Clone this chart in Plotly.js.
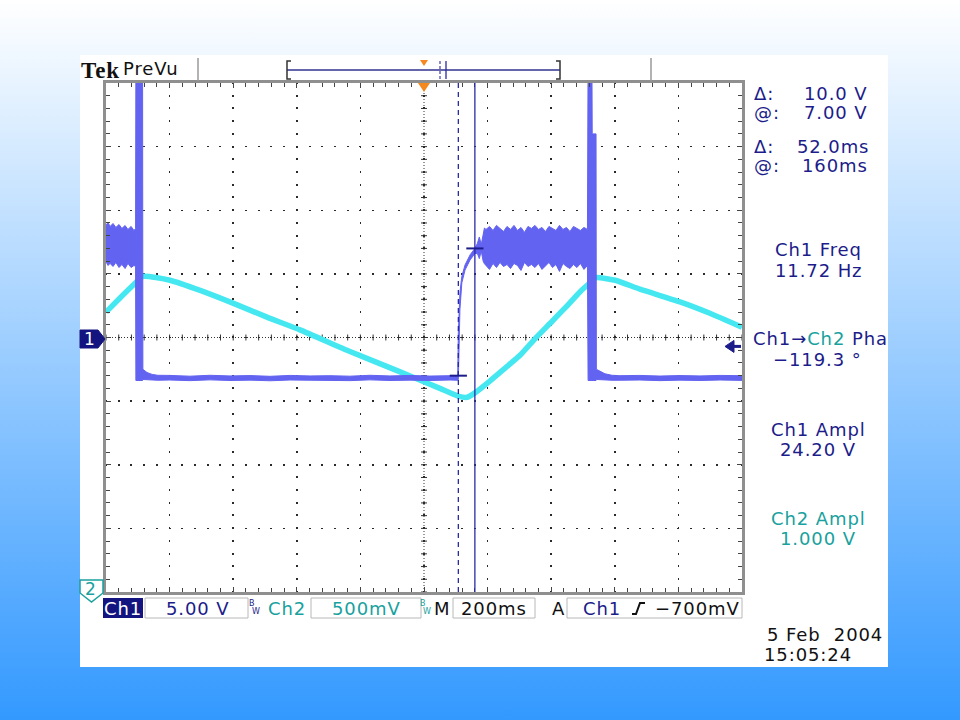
<!DOCTYPE html>
<html><head><meta charset="utf-8">
<script src="https://cdn.plot.ly/plotly-3.0.1.min.js"></script>
<style>
html,body{margin:0;padding:0;width:960px;height:720px;overflow:hidden;background:linear-gradient(to bottom,#ffffff 0%,#3399ff 100%);}
#chart{width:960px;height:720px;}
text.annotation-text{letter-spacing:0.9px;}
</style>
</head><body><div id="chart"></div>
<script>
// ---------- data (time in ms relative to trigger, volts) ----------
const ch1Time = [
-1000,-994,-987,-978,-969,-959,-950,-940,-931,-921,-912,-907,
-906,-885,
-884,-871,-855,-837,
-799,-736,-673,-610,-547,-484,-421,-358,-296,-233,-170,-107,-44,19,82,
106,
108,110,113,119,129,145,160,168,174,180,186,190,
195,206,217,228,239,250,261,272,283,294,305,316,327,338,349,360,371,382,393,404,415,426,437,448,459,470,481,492,503,514,
516,528,529,541,
542,553,569,591,616,679,742,805,868,931,1000];
const ch1High = [
8.80,9.04,8.73,8.96,8.65,8.88,8.57,8.80,8.49,8.73,8.41,8.57,
22,22,
-2.5,-2.75,-2.9,-2.97,
-2.98,-3.04,-2.97,-3.02,-2.99,-3.05,-2.98,-3.02,-3.0,-3.04,-2.97,-3.02,-2.98,-3.03,-3.0,
-3.0,
0.4,2.2,3.54,4.8,5.7,6.5,7.0,7.4,7.9,7.3,8.2,8.6,
8.49,8.73,8.41,8.81,8.57,8.33,8.73,8.49,8.81,8.41,8.65,8.26,8.73,8.57,8.81,8.49,8.65,8.33,8.73,8.57,8.41,8.81,8.49,8.65,8.33,8.73,8.57,8.41,8.65,8.49,
22,22,16,16,
-2.5,-2.65,-2.85,-2.97,-3.0,-2.98,-3.03,-2.99,-3.02,-2.98,-3.0];
const ch1Low = [
5.97,5.66,5.82,5.58,5.90,5.50,5.74,5.42,5.82,5.50,5.66,5.58,
-3.38,-3.38,
-3.3,-3.33,-3.35,-3.36,
-3.34,-3.39,-3.33,-3.38,-3.35,-3.4,-3.34,-3.37,-3.36,-3.39,-3.33,-3.38,-3.35,-3.38,-3.34,
-3.36,
-3.3,0.4,2.2,4.3,5.3,6.1,6.6,6.6,6.2,6.8,6.0,5.8,
5.66,5.35,5.82,5.50,5.90,5.58,5.74,5.42,5.82,5.66,5.27,5.90,5.58,5.74,5.50,5.82,5.35,5.66,5.90,5.50,5.74,5.19,5.82,5.58,5.42,5.74,5.50,5.82,5.35,5.66,
-3.38,-3.38,-3.38,-3.38,
-3.3,-3.32,-3.35,-3.36,-3.36,-3.34,-3.39,-3.35,-3.38,-3.34,-3.37];

const ch2Time = [-1000,-956,-915,-884,-799,-704,-601,-494,-390,-233,-75,50,107,135,160,208,255,302,349,396,443,491,522,541,601,679,805,899,1000];
const ch2Volts = [2.20,2.31,2.41,2.48,2.45,2.37,2.27,2.16,2.06,1.89,1.73,1.60,1.54,1.53,1.565,1.66,1.76,1.86,1.99,2.11,2.23,2.36,2.43,2.47,2.45,2.38,2.28,2.19,2.08];

const cursorTimes = [108, 160];      // ms (dashed, solid)
const cursorVolts = [-3.0, 7.0];     // V on Ch1
const triggerLevel = -0.7;           // V on Ch1

// scope settings
const ch1PerDiv = 5, ch2PerDiv = 0.5, timePerDiv = 200;

// ---------- geometry helpers (pixel -> paper) ----------
const L=106, R=742, TOP=83, BOT=592, W=R-L, H=BOT-TOP;
const X = px => (px-L)/W;
const Y = py => (BOT-py)/H;
const NAVY='#1c1c8a', TEAL='#18a19e', BLACK='#111111', CH1C='#6363f1', CH2C='#45e8f0';

function T(text, px, py, o){ o=o||{}; return {text:text, x:X(px), y:Y(py), xref:'paper', yref:'paper', showarrow:false,
  xanchor:o.anchor||'left', yanchor:'middle', font:{family:o.family||'DejaVu Sans', size:o.size||18, color:o.color||NAVY}}; }
function P(pts, close){ return pts.map((p,i)=>(i?'L':'M')+X(p[0]).toFixed(5)+','+Y(p[1]).toFixed(5)).join(' ')+(close?' Z':''); }
function pathShape(pts, close, line, fill){ return {type:'path', xref:'paper', yref:'paper', path:P(pts,close), line:line, fillcolor:fill||'rgba(0,0,0,0)'}; }
function rectPx(x0,y0,x1,y1,fill,lineColor){ return {type:'rect', xref:'paper', yref:'paper', x0:X(x0), x1:X(x1), y0:Y(y1), y1:Y(y0), fillcolor:fill, line:{color:lineColor||fill, width:lineColor?1:0}}; }

const traces = [
  {x:ch2Time, y:ch2Volts, xaxis:'x', yaxis:'y', mode:'lines', line:{color:CH2C, width:5.5, shape:'spline', smoothing:0.5}, hoverinfo:'skip'},
  {x:ch1Time, y:ch1High, xaxis:'x', yaxis:'y2', mode:'lines', line:{color:CH1C, width:1}, hoverinfo:'skip'},
  {x:ch1Time, y:ch1Low, xaxis:'x', yaxis:'y2', mode:'lines', fill:'tonexty', fillcolor:CH1C, line:{color:CH1C, width:1}, hoverinfo:'skip'}
];

const shapes = [];
// white panel
shapes.push(Object.assign(rectPx(80,55,888,667,'#ffffff'), {layer:'below'}));
// center cross lines with tick marks
const tMin=-5*timePerDiv, tMax=5*timePerDiv;
shapes.push({type:'line', xref:'paper', yref:'paper', x0:0, x1:1, y0:0.5, y1:0.5, line:{color:'#333', width:1, dash:'1px,2px'}, layer:'below'});
shapes.push({type:'line', xref:'x', yref:'paper', x0:0, x1:0, y0:0, y1:1, line:{color:'#333', width:1, dash:'1px,2px'}, layer:'below'});
let tp='';
for(let t=tMin; t<=tMax; t+=timePerDiv/5){ tp+='M'+t+','+(0.5-3/H)+' L'+t+','+(0.5+3/H)+' '; }
shapes.push({type:'path', xref:'x', yref:'paper', path:tp, line:{color:'#333', width:1}, layer:'below'});
let vp=''; const dx = 3*(2*tMax)/W;
for(let v=0; v<=8*ch2PerDiv+1e-9; v+=ch2PerDiv/5){ vp+='M'+(-dx)+','+v.toFixed(3)+' L'+dx+','+v.toFixed(3)+' '; }
shapes.push({type:'path', xref:'x', yref:'y', path:vp, line:{color:'#333', width:1}, layer:'below'});
// cursors
shapes.push({type:'line', xref:'x', yref:'paper', x0:cursorTimes[0], x1:cursorTimes[0], y0:0, y1:1, line:{color:'#2a2aa8', width:1.3, dash:'5px,4px'}});
shapes.push({type:'line', xref:'x', yref:'paper', x0:cursorTimes[1], x1:cursorTimes[1], y0:0, y1:1, line:{color:'#2a2aa8', width:1.3}});
shapes.push({type:'line', xref:'x', yref:'y2', x0:cursorTimes[0]-27, x1:cursorTimes[0]+27, y0:cursorVolts[0], y1:cursorVolts[0], line:{color:NAVY, width:2}});
shapes.push({type:'line', xref:'x', yref:'y2', x0:cursorTimes[1]-27, x1:cursorTimes[1]+27, y0:cursorVolts[1], y1:cursorVolts[1], line:{color:NAVY, width:2}});
// trigger marker on top and in record view
shapes.push(pathShape([[418,83],[430,83],[424,92]], true, {width:0}, '#f5891f'));
shapes.push(pathShape([[420,60],[428,60],[424,66]], true, {width:0}, '#f5891f'));
// trigger level arrow (right)
const trigPy = BOT - (triggerLevel/ch1PerDiv + 4)*H/8;
shapes.push(pathShape([[725,trigPy],[734,trigPy-6],[734,trigPy+6]], true, {color:NAVY, width:1}, NAVY));
shapes.push(pathShape([[732,trigPy],[741,trigPy]], false, {color:NAVY, width:3}));
// channel markers
shapes.push(pathShape([[80,330],[98,330],[105,339],[98,348],[80,348]], true, {color:'#141480', width:1}, '#141480'));
shapes.push(pathShape([[80,580],[103,580],[103,593],[91.5,602],[80,593]], true, {color:TEAL, width:1.5}, '#ffffff'));
// header
shapes.push(pathShape([[198,58],[198,81]], false, {color:'#9a9a9a', width:1.5}));
shapes.push(pathShape([[651,58],[651,81]], false, {color:'#9a9a9a', width:1.5}));
shapes.push(pathShape([[287,70],[560,70]], false, {color:'#32328f', width:1.5}));
shapes.push(pathShape([[291,61],[287,61],[287,79],[291,79]], false, {color:'#333', width:1.5}));
shapes.push(pathShape([[556,61],[560,61],[560,79],[556,79]], false, {color:'#333', width:1.5}));
shapes.push(pathShape([[440,61],[440,79]], false, {color:'#4a4ab0', width:1.3, dash:'3px,2px'}));
shapes.push(pathShape([[446,61],[446,79]], false, {color:'#2a2aa8', width:1.3}));
// bottom bar boxes
shapes.push(rectPx(103,598,143,618,'#141480'));
shapes.push(rectPx(145,598,248,618,'#ffffff','#b8b8b8'));
shapes.push(rectPx(311,598,421,618,'#ffffff','#b8b8b8'));
shapes.push(rectPx(453,598,535,618,'#ffffff','#b8b8b8'));
shapes.push(rectPx(567,598,742,618,'#ffffff','#b8b8b8'));
// trigger slope symbol
shapes.push(pathShape([[632,614],[636,614],[640,603],[645,603]], false, {color:BLACK, width:2}));

const NB='\u00a0';
const annotations = [
  T('<b>Tek</b>', 79, 70, {family:'Liberation Serif', size:23, color:BLACK}),
  T('PreVu', 121, 69, {size:18, color:BLACK}),
  T('Δ:', 752, 94), T('@:', 752, 113),
  T('10.0'+NB+'V', 870, 94, {anchor:'right'}), T('7.00'+NB+'V', 870, 113, {anchor:'right'}),
  T('Δ:', 752, 146), T('@:', 752, 165),
  T('52.0ms', 871, 146, {anchor:'right'}), T('160ms', 870, 165, {anchor:'right'}),
  T('Ch1 Freq', 818, 249, {anchor:'center'}), T('11.72 Hz', 818, 270, {anchor:'center'}),
  T('Ch1→<span style="color:'+TEAL+'">Ch2</span> Pha', 751, 338),
  T('−119.3 °', 817, 359, {anchor:'center'}),
  T('Ch1 Ampl', 818, 429, {anchor:'center'}), T('24.20 V', 818, 449, {anchor:'center'}),
  T('Ch2 Ampl', 818, 518, {anchor:'center', color:TEAL}), T('1.000 V', 818, 538, {anchor:'center', color:TEAL}),
  T('1', 90, 339, {anchor:'center', color:'#ffffff', size:17}),
  T('2', 91, 589, {anchor:'center', color:TEAL, size:17}),
  T('Ch1', 123, 608, {anchor:'center', color:'#ffffff'}),
  T('5.00'+NB+'V', 198, 608, {anchor:'center'}),
  T('B', 252, 603, {anchor:'center', size:8, color:NAVY}), T('W', 256, 611, {anchor:'center', size:8, color:NAVY}),
  T('Ch2', 287, 608, {anchor:'center', color:TEAL}),
  T('500mV', 366, 608, {anchor:'center', color:TEAL}),
  T('B', 423, 603, {anchor:'center', size:8, color:TEAL}), T('W', 427, 611, {anchor:'center', size:8, color:TEAL}),
  T('M', 442, 608, {anchor:'center', color:BLACK}),
  T('200ms', 494, 608, {anchor:'center', color:BLACK}),
  T('A', 558, 608, {anchor:'center', color:BLACK}),
  T('Ch1', 602, 608, {anchor:'center'}),
  T('−700mV', 697, 608, {anchor:'center', color:BLACK}),
  T('5 Feb'+NB+NB+'2004', 765, 634, {color:BLACK}),
  T('15:05:24', 762, 654, {color:BLACK})
];

const layout = {
  width:960, height:720,
  margin:{l:L, r:960-R, t:TOP, b:720-BOT, pad:0},
  paper_bgcolor:'rgba(0,0,0,0)', plot_bgcolor:'#ffffff',
  showlegend:false, hovermode:false,
  font:{family:'DejaVu Sans', color:NAVY},
  xaxis:{range:[tMin,tMax], tick0:0, dtick:timePerDiv, showgrid:true, gridcolor:'#2a2a2a', gridwidth:1.5,
         griddash:'1px,10.72px,1px,0px', zeroline:false, showline:true, linecolor:'#8f8f8f', linewidth:3, mirror:'ticks',
         ticks:'inside', ticklen:5, tickcolor:'#444', tickwidth:1, showticklabels:false,
         minor:{dtick:timePerDiv/5, ticks:'inside', ticklen:4, tickcolor:'#444', tickwidth:1, showgrid:false}},
  yaxis:{range:[0, 8*ch2PerDiv], tick0:0, dtick:ch2PerDiv, showgrid:true, gridcolor:'#2a2a2a', gridwidth:1.5,
         griddash:'1px,10.72px,1px,0px', zeroline:false, showline:true, linecolor:'#8f8f8f', linewidth:3, mirror:'ticks',
         ticks:'inside', ticklen:5, tickcolor:'#444', tickwidth:1, showticklabels:false,
         minor:{dtick:ch2PerDiv/5, ticks:'inside', ticklen:4, tickcolor:'#444', tickwidth:1, showgrid:false}},
  yaxis2:{range:[-4*ch1PerDiv, 4*ch1PerDiv], overlaying:'y', side:'right', showgrid:false, zeroline:false,
          showline:false, ticks:'', showticklabels:false},
  shapes:shapes, annotations:annotations
};
Plotly.newPlot('chart', traces, layout, {staticPlot:true, displayModeBar:false});
</script>
</body></html>
